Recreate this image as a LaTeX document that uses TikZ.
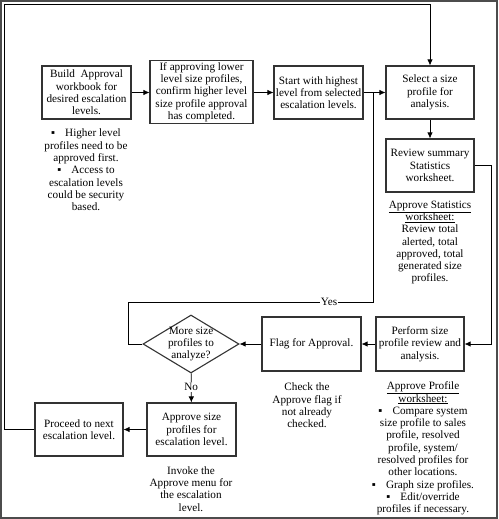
\documentclass[tikz,border=0pt]{standalone}
\usepackage{fontspec}
\setmainfont{Liberation Serif}
\usetikzlibrary{arrows.meta,shapes.geometric}

\begin{document}
\begin{tikzpicture}[x=1pt, y=-1pt, line width=0.8pt,
  every node/.style={font=\fontsize{11.2}{12.3}\selectfont, align=center},
  procbox/.style={draw=black!80, line width=1.1pt, inner sep=1.5pt, minimum width=#1, minimum height=53pt},
  procbox/.default=89pt,
  note/.style={inner sep=0pt},
  lbl/.style={fill=white, inner sep=1pt},
  arr/.style={-{Latex[length=6pt,width=5.5pt]}}]
\useasboundingbox (0,0) rectangle (498,519);
\draw[line width=2pt, black!70] (1,1) rectangle (497,518);

\node[procbox] (build) at (86.5,92.5) {Build\ \ Approval\\workbook for\\desired escalation\\levels.};
\node[procbox=103pt, minimum height=63pt] (confirm) at (201.5,92) {If approving lower\\level size profiles,\\confirm higher level\\size profile approval\\has completed.};
\node[procbox] (start) at (318.5,92.5) {Start with highest\\level from selected\\escalation levels.};
\node[procbox=88pt] (select) at (430,92.5) {Select a size\\profile for\\analysis.};
\node[procbox=88pt] (review) at (430,165.5) {Review summary\\Statistics\\worksheet.};
\node[procbox=88pt, minimum height=54pt] (perform) at (420,344) {Perform size\\profile review and\\analysis.};
\node[procbox=99pt, minimum height=54pt] (flag) at (311.5,344) {Flag for Approval.};
\node[draw=black!80, line width=1.1pt, diamond, minimum width=96pt, minimum height=58pt, inner sep=0pt] (more) at (191,344) {};
\node (moretxt) at (more.center) {More size\\profiles to\\analyze?};
\node[procbox] (approve) at (191.5,429.5) {Approve size\\profiles for\\escalation level.};
\node[procbox=88pt] (proceed) at (79,429.5) {Proceed to next\\escalation level.};

\node[note] (buildnote) at (86,170) {▪\hspace{0.9em}Higher level\\profiles need to be\\approved first.\\▪\hspace{0.9em}Access to\\escalation levels\\could be security\\based.};
\node[note] (reviewnote) at (430,242.5) {\underline{Approve Statistics}\\\underline{worksheet:}\\Review total\\alerted, total\\approved, total\\generated size\\profiles.};
\node[note] (flagnote) at (307,405.5) {Check the\\Approve flag if\\not already\\checked.};
\node[note] (performnote) at (423,448.5) {\underline{Approve Profile}\\\underline{worksheet:}\\▪\hspace{0.9em}Compare system\\size profile to sales\\profile, resolved\\profile, system/\\resolved profiles for\\other locations.\\▪\hspace{0.9em}Graph size profiles.\\▪\hspace{0.9em}Edit/override\\profiles if necessary.};
\node[note] (approvenote) at (191,489) {Invoke the\\Approve menu for\\the escalation\\level.};

\coordinate (jn) at (373,92.5);
\coordinate (yes) at (373,302);
\coordinate (corner) at (4.5,4.5);

\draw[arr] (build.east) -- (confirm.west |- build.east);
\draw[arr] (confirm.east |- start.west) -- (start.west);
\draw[arr] (start) -- (select);
\draw[arr] (select) -- (review);
\draw[arr] (review.east) -- ++(17,0) |- (perform.east);
\draw[arr] (perform) -- (flag);
\draw[arr] (flag) -- (more);
\draw (more.west) -- ++(-14,0) |- (yes) node[lbl, pos=0.91] {Yes} -- (jn);
\draw[arr] (more) -- node[lbl, pos=0.47] {No} (approve);
\draw[arr] (approve) -- (proceed);
\draw[arr] (proceed.west) -| (corner) -| (select.north);
\end{tikzpicture}
\end{document}
